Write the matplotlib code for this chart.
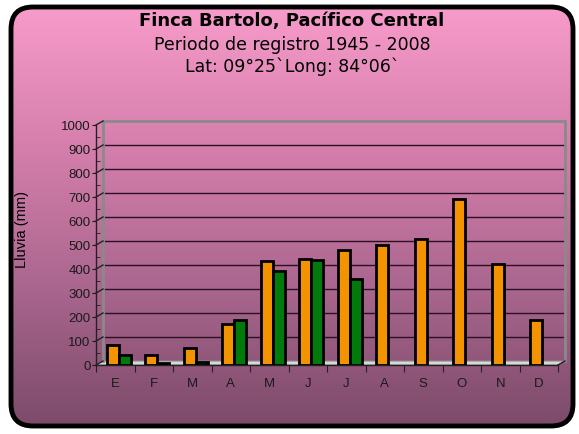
import numpy as np
import matplotlib.pyplot as plt
from matplotlib.patches import FancyBboxPatch, Polygon
from matplotlib.colors import LinearSegmentedColormap
import matplotlib.transforms as mtransforms

plt.rcParams['font.family'] = ['DejaVu Sans']

meses = ['E', 'F', 'M', 'A', 'M', 'J', 'J', 'A', 'S', 'O', 'N', 'D']
lluvia_naranja = [83, 43, 70, 170, 433, 440, 481, 502, 523, 692, 420, 188]
lluvia_verde = [41, 10, 12, 188, 391, 437, 360, np.nan, np.nan, np.nan, np.nan, np.nan]
yticks = [0, 100, 200, 300, 400, 500, 600, 700, 800, 900, 1000]

W, H = 579, 435
fig = plt.figure(figsize=(W / 100, H / 100), dpi=100)
fig.patch.set_facecolor('white')

# fondo con degradado dentro de un rectangulo redondeado
bg = fig.add_axes([0, 0, 1, 1])
bg.set_xlim(0, W)
bg.set_ylim(H, 0)
bg.axis('off')
cmap = LinearSegmentedColormap.from_list('fondo', ['#F99DCC', '#D67FAC', '#A9668E', '#7A4968'])
grad = np.linspace(0, 1, 256).reshape(-1, 1)
img = bg.imshow(grad, cmap=cmap, extent=[0, W, H, 0], aspect='auto', zorder=0)
caja = FancyBboxPatch((11, 8), W - 17, H - 16, boxstyle='round,pad=0,rounding_size=22',
                      facecolor='none', edgecolor='black', linewidth=3.5, zorder=2)
bg.add_patch(caja)
img.set_clip_path(caja)

bg.text(292, 21, 'Finca Bartolo, Pacífico Central', ha='center', va='center',
        fontsize=13, fontweight='bold', color='black')
bg.text(292, 45, 'Periodo de registro 1945 - 2008', ha='center', va='center', fontsize=12.5)
bg.text(292, 67, 'Lat: 09°25`Long: 84°06`', ha='center', va='center', fontsize=12.5)

# area del grafico
x0, x1, y0, y1 = 96, 558, 366, 126
ax = fig.add_axes([x0 / W, 1 - y0 / H, (x1 - x0) / W, (y0 - y1) / H])
ax.patch.set_alpha(0)
ax.set_xlim(0, 12)
ax.set_ylim(0, 1000)
for s in ['top', 'right']:
    ax.spines[s].set_visible(False)
ax.spines['left'].set_color('#222222')
ax.spines['bottom'].set_color('#222222')
ax.spines['left'].set_linewidth(1)
ax.spines['bottom'].set_linewidth(1)

dx, dy = 7, 4  # profundidad en pixeles
back = mtransforms.offset_copy(ax.transData, fig=fig, x=dx, y=dy, units='dots')

# piso y paredes
floor_pts = np.array([[0, 0], [12, 0]])
p0 = ax.transData.transform(floor_pts)
p1 = back.transform(floor_pts)
poly = np.vstack([p0[0], p0[1], p1[1], p1[0]])
ax.add_patch(Polygon(poly, closed=True, transform=None, facecolor='#D8D8D8',
                     edgecolor='#888888', linewidth=0.8, zorder=1, clip_on=False))
for v in yticks[1:-1]:
    ax.plot([0, 12], [v, v], color='#2a1020', linewidth=1, transform=back, zorder=1,
            clip_on=False)
ax.plot([0, 0, 12, 12], [0, 1000, 1000, 0], color='#8a8a8a', linewidth=2,
        transform=back, zorder=1, solid_joinstyle='miter', clip_on=False)
for v in yticks:
    a = ax.transData.transform((0, v))
    ax.plot([a[0], a[0] + dx], [a[1], a[1] + dy], color='#222222', linewidth=1,
            transform=None, zorder=3, clip_on=False)
a = ax.transData.transform((12, 0))
ax.plot([a[0], a[0] + dx], [a[1], a[1] + dy], color='#222222', linewidth=1,
        transform=None, zorder=3, clip_on=False)

# barras
xc = np.arange(12) + 0.5
w = 0.31
ax.bar(xc - 0.06, lluvia_naranja, width=w, color='#F39300', edgecolor='black',
       linewidth=2, zorder=4)
ax.bar(xc + 0.25, lluvia_verde, width=w, color='#007A0A', edgecolor='black',
       linewidth=2, zorder=4)

fuente = 'Liberation Sans'
ax.set_yticks(yticks)
ax.set_yticklabels([str(v) for v in yticks], fontfamily=fuente)
ax.set_yticks(np.arange(50, 1000, 100), minor=True)
ax.tick_params(axis='y', which='major', length=3, labelsize=9.5, pad=1, colors='#1a1a1a')
ax.tick_params(axis='y', which='minor', length=3, direction='in', colors='#222222')
ax.set_xticks(np.arange(13))
ax.set_xticklabels([])
ax.set_xticks(xc, minor=True)
ax.set_xticklabels(meses, minor=True, fontfamily=fuente)
ax.tick_params(axis='x', which='major', length=5, colors='#222222')
ax.tick_params(axis='x', which='minor', length=0, labelsize=9.5, pad=9, colors='#1a1a1a')
ax.set_ylabel('Lluvia (mm)', fontsize=10.5, fontfamily=fuente)
ax.yaxis.set_label_coords(-0.145, 0.57)

fig.savefig('out.png', dpi=100)
